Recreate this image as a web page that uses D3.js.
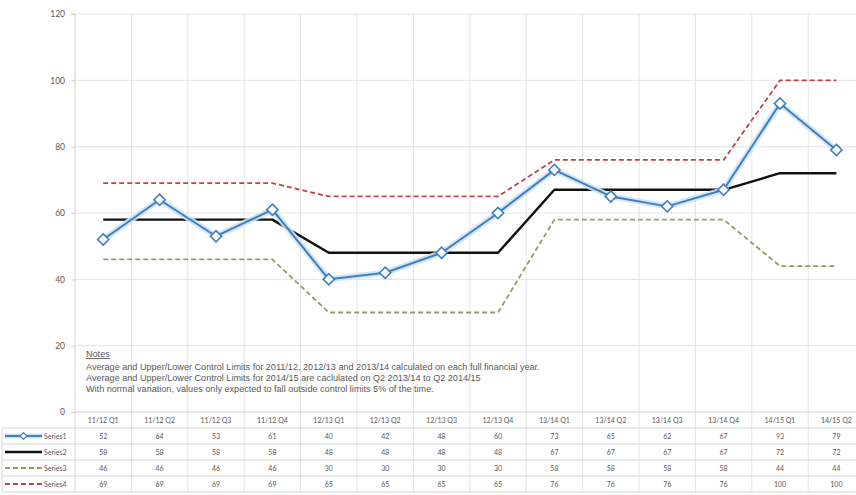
<!DOCTYPE html>
<html>
<head>
<meta charset="utf-8">
<script src="https://cdn.jsdelivr.net/npm/d3@7/dist/d3.min.js"></script>
<style>
  html, body { margin: 0; padding: 0; background: #fff; }
  svg { display: block; font-family: "Lato", "Liberation Sans", sans-serif; }
</style>
</head>
<body>
<svg id="chart" width="856" height="495"></svg>
<script>
// Quarterly categories
const categories = ["11/12 Q1","11/12 Q2","11/12 Q3","11/12 Q4","12/13 Q1","12/13 Q2","12/13 Q3","12/13 Q4",
                    "13/14 Q1","13/14 Q2","13/14 Q3","13/14 Q4","14/15 Q1","14/15 Q2"];
// Observed values
const series1 = [52, 64, 53, 61, 40, 42, 48, 60, 73, 65, 62, 67, 93, 79];
// Average
const series2 = [58, 58, 58, 58, 48, 48, 48, 48, 67, 67, 67, 67, 72, 72];
// Lower control limit
const series3 = [46, 46, 46, 46, 30, 30, 30, 30, 58, 58, 58, 58, 44, 44];
// Upper control limit
const series4 = [69, 69, 69, 69, 65, 65, 65, 65, 76, 76, 76, 76, 100, 100];
const seriesNames = ["Series1", "Series2", "Series3", "Series4"];
const yTicks = [0, 20, 40, 60, 80, 100, 120];
const notes = [
  "Average and Upper/Lower Control Limits for 2011/12, 2012/13 and 2013/14 calculated on each full financial year.",
  "Average and Upper/Lower Control Limits  for 2014/15 are caclulated on  Q2 2013/14 to Q2 2014/15",
  "With normal variation, values only expected to fall outside control limits 5% of the time."
];

const svg = d3.select("#chart");
const plotLeft = 75, step = 56.4;
const plotRight = plotLeft + step * categories.length;
const plotTop = 14, plotBottom = 412;

const x = d3.scaleBand().domain(categories).range([plotLeft, plotRight]).padding(0);
const y = d3.scaleLinear().domain([0, 120]).range([plotBottom, plotTop]);
const cx = d => x(d) + x.bandwidth() / 2;

const gridColor = "#e4e4e4";
const textColor = "#595959";

// Horizontal gridlines
svg.append("g").selectAll("line").data(yTicks.filter(t => t > 0)).join("line")
  .attr("x1", plotLeft).attr("x2", plotRight)
  .attr("y1", d => y(d)).attr("y2", d => y(d))
  .attr("stroke", gridColor).attr("stroke-width", 1);

// Vertical gridlines at category boundaries (run down through the data table)
const rowH = 16;
const tableBottom = plotBottom + rowH * 5;
svg.append("g").selectAll("line").data(categories.slice(1)).join("line")
  .attr("x1", d => x(d)).attr("x2", d => x(d))
  .attr("y1", plotTop).attr("y2", tableBottom)
  .attr("stroke", gridColor).attr("stroke-width", 1);

// Y axis
const yAxis = d3.axisLeft(y).tickValues(yTicks).tickSize(4).tickPadding(6);
const ya = svg.append("g").attr("transform", `translate(${plotLeft},0)`).call(yAxis);
ya.select(".domain").attr("stroke", "#d0d0d0").attr("d", `M-4,${plotTop}H0V${plotBottom}`);
ya.selectAll(".tick line").attr("stroke", "#d0d0d0");
ya.selectAll(".tick text").attr("fill", textColor).attr("font-size", 8.5)
  .attr("font-family", "Lato, 'Liberation Sans', sans-serif");

// X axis baseline
svg.append("line").attr("x1", plotLeft).attr("x2", plotRight).attr("y1", plotBottom).attr("y2", plotBottom)
  .attr("stroke", "#d0d0d0");

// Notes block
const notesG = svg.append("g").attr("fill", textColor).attr("font-size", 9.1)
  .attr("font-family", "'Liberation Sans', Arial, sans-serif");
notesG.append("text").attr("x", 86).attr("y", 357).text("Notes")
  .attr("text-decoration", "underline");
notes.forEach((t, i) => notesG.append("text").attr("x", 86).attr("y", 369.5 + i * 11.3).text(t));

// Series styles
const styles = [
  { color: "#3d7fc1", width: 2, dash: null, halo: "#cfe2f4" },
  { color: "#111111", width: 2.4, dash: null, halo: null },
  { color: "#9c9a62", width: 1.8, dash: "5,3", halo: null },
  { color: "#b8454a", width: 1.8, dash: "5,3", halo: null }
];
const allSeries = [series1, series2, series3, series4];

const line = d3.line().x((d, i) => cx(categories[i])).y(d => y(d));

// Draw limit lines first, observed values last
[3, 2, 1, 0].forEach(si => {
  const s = styles[si];
  if (s.halo) {
    svg.append("path").datum(allSeries[si]).attr("d", line)
      .attr("fill", "none").attr("stroke", s.halo).attr("stroke-width", 6)
      .attr("stroke-linejoin", "round").attr("opacity", 0.9);
  }
  svg.append("path").datum(allSeries[si]).attr("d", line)
    .attr("fill", "none").attr("stroke", s.color).attr("stroke-width", s.width)
    .attr("stroke-dasharray", s.dash).attr("stroke-linejoin", "round");
});

// Diamond markers for Series1
const diamond = d3.symbol().type(d3.symbolDiamond2).size(80);
svg.append("g").selectAll("path").data(series1).join("path")
  .attr("d", diamond)
  .attr("transform", (d, i) => `translate(${cx(categories[i])},${y(d)})`)
  .attr("fill", "#ffffff").attr("stroke", styles[0].color).attr("stroke-width", 1.6);

// Data table
const tbl = svg.append("g").attr("font-size", 7).attr("fill", textColor);
tbl.selectAll("text.hdr").data(categories).join("text").attr("class", "hdr")
  .attr("x", d => cx(d)).attr("y", plotBottom + 11).attr("text-anchor", "middle").text(d => d);
for (let r = 1; r <= 5; r++) {
  tbl.append("line").attr("x1", 2).attr("x2", plotRight)
    .attr("y1", plotBottom + r * rowH).attr("y2", plotBottom + r * rowH)
    .attr("stroke", "#d8d8d8");
}
tbl.append("line").attr("x1", 2).attr("x2", 2).attr("y1", plotBottom + rowH).attr("y2", tableBottom)
  .attr("stroke", "#d8d8d8");
tbl.append("line").attr("x1", plotLeft).attr("x2", plotLeft).attr("y1", plotBottom).attr("y2", tableBottom)
  .attr("stroke", "#d8d8d8");

allSeries.forEach((vals, si) => {
  const rowY = plotBottom + rowH * (si + 1);
  const mid = rowY + rowH / 2;
  const s = styles[si];
  if (s.halo) {
    tbl.append("line").attr("x1", 5).attr("x2", 42).attr("y1", mid).attr("y2", mid)
      .attr("stroke", s.halo).attr("stroke-width", 5);
  }
  tbl.append("line").attr("x1", 5).attr("x2", 42).attr("y1", mid).attr("y2", mid)
    .attr("stroke", s.color).attr("stroke-width", s.width).attr("stroke-dasharray", s.dash);
  if (si === 0) {
    tbl.append("path").attr("d", d3.symbol().type(d3.symbolDiamond2).size(30))
      .attr("transform", `translate(23.5,${mid})`)
      .attr("fill", "#fff").attr("stroke", s.color).attr("stroke-width", 1.2);
  }
  tbl.append("text").attr("x", 44).attr("y", mid + 2.5).text(seriesNames[si]);
  tbl.selectAll(null).data(vals).join("text")
    .attr("x", (d, i) => cx(categories[i])).attr("y", mid + 2.5)
    .attr("text-anchor", "middle").text(d => d);
});
</script>
</body>
</html>
